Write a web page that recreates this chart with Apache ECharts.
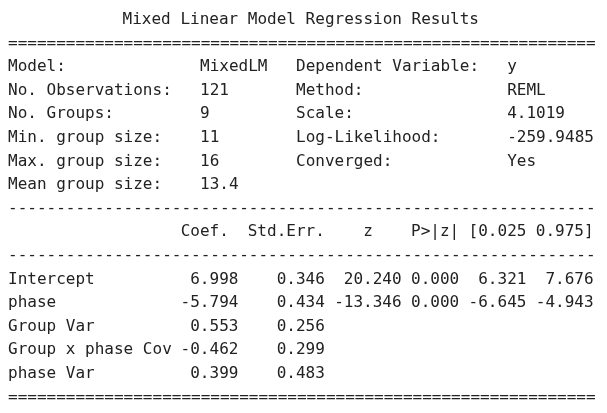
<!DOCTYPE html>
<html>
<head>
<meta charset="utf-8">
<script src="https://cdn.jsdelivr.net/npm/echarts@6/dist/echarts.min.js"></script>
<style>
html,body{margin:0;padding:0;background:#ffffff;}
#chart{width:607px;height:413px;}
</style>
</head>
<body>
<div id="chart"></div>
<script>
// ---- data ----
var title = 'Mixed Linear Model Regression Results';
var infoLabels1 = ['Model:', 'No. Observations:', 'No. Groups:', 'Min. group size:', 'Max. group size:', 'Mean group size:'];
var infoValues1 = ['MixedLM', '121', '9', '11', '16', '13.4'];
var infoLabels2 = ['Dependent Variable:', 'Method:', 'Scale:', 'Log-Likelihood:', 'Converged:', ''];
var infoValues2 = ['y', 'REML', '4.1019', '-259.9485', 'Yes', ''];
var columns = ['Coef.', 'Std.Err.', 'z', 'P>|z|', '[0.025', '0.975]'];
var rowNames = ['Intercept', 'phase', 'Group Var', 'Group x phase Cov', 'phase Var'];
var coef = [6.998, -5.794, 0.553, -0.462, 0.399];
var stdErr = [0.346, 0.434, 0.256, 0.299, 0.483];
var zVal = [20.240, -13.346, null, null, null];
var pVal = [0.000, 0.000, null, null, null];
var ciLow = [6.321, -6.645, null, null, null];
var ciHigh = [7.676, -4.943, null, null, null];

// ---- layout ----
var CH = 9.6, X0 = 8, Y0 = 19.8, LH = 23.6, NCH = 61;
var FONT = '16px "DejaVu Sans Mono", "Liberation Mono", monospace';
var COLOR = '#222222';
var infoCols = [0, 20, 30, 52];
var headerEnds = [23, 33, 38, 47, 54, 61];
var valueEnds = [24, 33, 41, 47, 54, 61];

function txt(s, col, line, align) {
  return {
    type: 'text',
    x: X0 + col * CH,
    y: Y0 + line * LH,
    silent: true,
    style: {
      text: s, font: FONT, fill: COLOR,
      textAlign: align || 'left', align: align || 'left',
      textVerticalAlign: 'middle', verticalAlign: 'middle'
    }
  };
}
function rep(c, n) { return new Array(n + 1).join(c); }

var els = [];
els.push({
  type: 'text', x: X0 + NCH * CH / 2, y: Y0, silent: true,
  style: { text: title, font: FONT, fill: COLOR, textAlign: 'center', align: 'center', textVerticalAlign: 'middle', verticalAlign: 'middle' }
});
els.push(txt(rep('=', NCH), 0, 1));
for (var i = 0; i < infoLabels1.length; i++) {
  var ln = 2 + i;
  els.push(txt(infoLabels1[i], infoCols[0], ln));
  els.push(txt(infoValues1[i], infoCols[1], ln));
  if (infoLabels2[i]) els.push(txt(infoLabels2[i], infoCols[2], ln));
  if (infoValues2[i]) els.push(txt(infoValues2[i], infoCols[3], ln));
}
els.push(txt(rep('-', NCH), 0, 8));
for (var c = 0; c < columns.length; c++) {
  els.push(txt(columns[c], headerEnds[c], 9, 'right'));
}
els.push(txt(rep('-', NCH), 0, 10));
var valueCols = [coef, stdErr, zVal, pVal, ciLow, ciHigh];
for (var r = 0; r < rowNames.length; r++) {
  var ln2 = 11 + r;
  els.push(txt(rowNames[r], 0, ln2));
  for (var k = 0; k < valueCols.length; k++) {
    var v = valueCols[k][r];
    if (v === null || v === undefined) continue;
    els.push(txt(v.toFixed(3), valueEnds[k], ln2, 'right'));
  }
}
els.push(txt(rep('=', NCH), 0, 16));

var chart = echarts.init(document.getElementById('chart'));
chart.setOption({
  backgroundColor: '#ffffff',
  animation: false,
  graphic: { elements: els }
});
</script>
</body>
</html>
